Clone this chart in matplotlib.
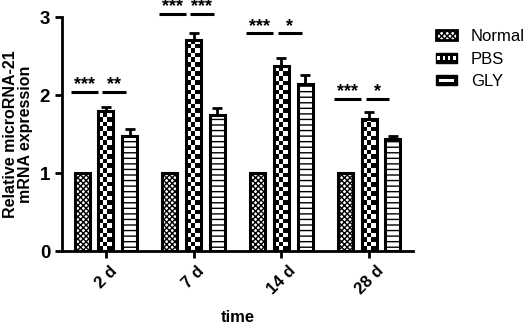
import numpy as np
import matplotlib

matplotlib.use("Agg")
import matplotlib.pyplot as plt
from matplotlib.patches import Rectangle
from matplotlib.legend_handler import HandlerPatch

plt.rcParams["font.family"] = ["Liberation Sans", "DejaVu Sans"]
plt.rcParams["font.weight"] = "bold"
plt.rcParams["hatch.linewidth"] = 1.0

# data
times = ["2 d", "7 d", "14 d", "28 d"]
groups = ["Normal", "PBS", "GLY"]
normal = [1.0, 1.0, 1.0, 1.0]
pbs = [1.79, 2.70, 2.37, 1.69]
pbs_err = [0.06, 0.09, 0.10, 0.09]
gly = [1.48, 1.74, 2.14, 1.44]
gly_err = [0.09, 0.09, 0.12, 0.04]
sig_left = ["***", "***", "***", "***"]
sig_right = ["**", "***", "*", "*"]
sig_height = [2.04, 3.04, 2.79, 1.95]

W, H = 526, 326
fig = plt.figure(figsize=(W / 100, H / 100), dpi=100)
ax = fig.add_axes([62 / W, 75 / H, 351 / W, 234 / H])
ax.set_xlim(-0.5, 3.5)
ax.set_ylim(0, 3)
px_x = 351 / 4.0
px_y = 234 / 3.0

x = np.arange(len(times))
step = 0.27
width = 0.17
lw = 2.2


def checker_bars(rects, cell=4.6):
    for r in rects:
        x0, y0 = r.get_x(), r.get_y()
        w, h = r.get_width(), r.get_height()
        nc = int(np.ceil(w * px_x / cell))
        nr = int(np.ceil(h * px_y / cell))
        board = (np.add.outer(np.arange(nr), np.arange(nc)) % 2).astype(float)
        im = ax.imshow(board, cmap="gray", interpolation="nearest",
                       extent=[x0, x0 + nc * cell / px_x, y0, y0 + nr * cell / px_y],
                       origin="lower", aspect="auto", zorder=1.5)
        im.set_clip_path(r)


b1 = ax.bar(x - step, normal, width, color="white", edgecolor="black",
            linewidth=lw, hatch="xxxxxx", zorder=2)
b2 = ax.bar(x, pbs, width, color="none", edgecolor="black",
            linewidth=lw, zorder=2)
checker_bars(b2)
b3 = ax.bar(x + step, gly, width, color="white", edgecolor="black",
            linewidth=lw, hatch="---", zorder=2)

for xs, v, e in [(x, pbs, pbs_err), (x + step, gly, gly_err)]:
    ax.errorbar(xs, v, yerr=[np.zeros(len(e)), e], fmt="none", ecolor="black",
                elinewidth=2, capsize=3.5, capthick=2, zorder=3)
ax.set_xlim(-0.5, 3.5)
ax.set_ylim(0, 3)

for i in range(len(times)):
    y = sig_height[i]
    for (a, b), s in [((-0.40, -0.09), sig_left[i]), ((-0.04, 0.23), sig_right[i])]:
        ax.plot([i + a, i + b], [y, y], color="black", lw=2.2,
                solid_capstyle="butt", clip_on=False)
        ax.text(i + (a + b) / 2, y + 0.035, s, ha="center", va="baseline",
                fontsize=13, fontweight="bold", clip_on=False)

ax.spines["top"].set_visible(False)
ax.spines["right"].set_visible(False)
for s in ["left", "bottom"]:
    ax.spines[s].set_linewidth(2)
ax.set_yticks([0, 1, 2, 3])
ax.set_xticks(x)
ax.set_xticklabels(times, rotation=45, fontsize=12, fontweight="bold")
ax.tick_params(axis="both", width=2, length=5, labelsize=13.5)
ax.tick_params(axis="x", labelsize=12, pad=4)
ax.set_ylabel("Relative microRNA-21\nmRNA expression", fontsize=11.5,
              fontweight="bold", linespacing=1.0, labelpad=5)
ax.set_xlabel("time", fontsize=12, fontweight="bold", labelpad=9)


class CheckerHandler(HandlerPatch):
    def create_artists(self, legend, orig, xd, yd, width, height, fontsize, trans):
        arts = [Rectangle((-xd, -yd), width, height, facecolor="black",
                          edgecolor="black", transform=trans)]
        n = 4
        cw = width / (n * 2)
        for k in range(n):
            arts.append(Rectangle((-xd + (2 * k + 0.5) * cw, -yd + height * 0.3),
                                  cw, height * 0.4, facecolor="white",
                                  edgecolor="none", transform=trans))
        return arts


class StripeHandler(HandlerPatch):
    def create_artists(self, legend, orig, xd, yd, width, height, fontsize, trans):
        return [Rectangle((-xd, -yd), width, height, facecolor="black",
                          edgecolor="black", transform=trans),
                Rectangle((-xd + width * 0.15, -yd + height * 0.35), width * 0.7,
                          height * 0.3, facecolor="white", edgecolor="none",
                          transform=trans)]


handles = [
    Rectangle((0, 0), 1, 1, facecolor="white", edgecolor="black", lw=2, hatch="xxxxxx"),
    Rectangle((0, 0), 1, 1, facecolor="black", edgecolor="black", lw=2),
    Rectangle((0, 0), 1, 1, facecolor="black", edgecolor="black", lw=2),
]
fig.legend(handles, groups, loc="upper left", bbox_to_anchor=(421 / W, 1 - 14 / H),
           frameon=False, handlelength=1.25, handleheight=0.55,
           handletextpad=0.85, labelspacing=0.45,
           handler_map={handles[1]: CheckerHandler(), handles[2]: StripeHandler()},
           prop={"weight": "normal", "size": 12})

fig.savefig("out.png", dpi=100)
